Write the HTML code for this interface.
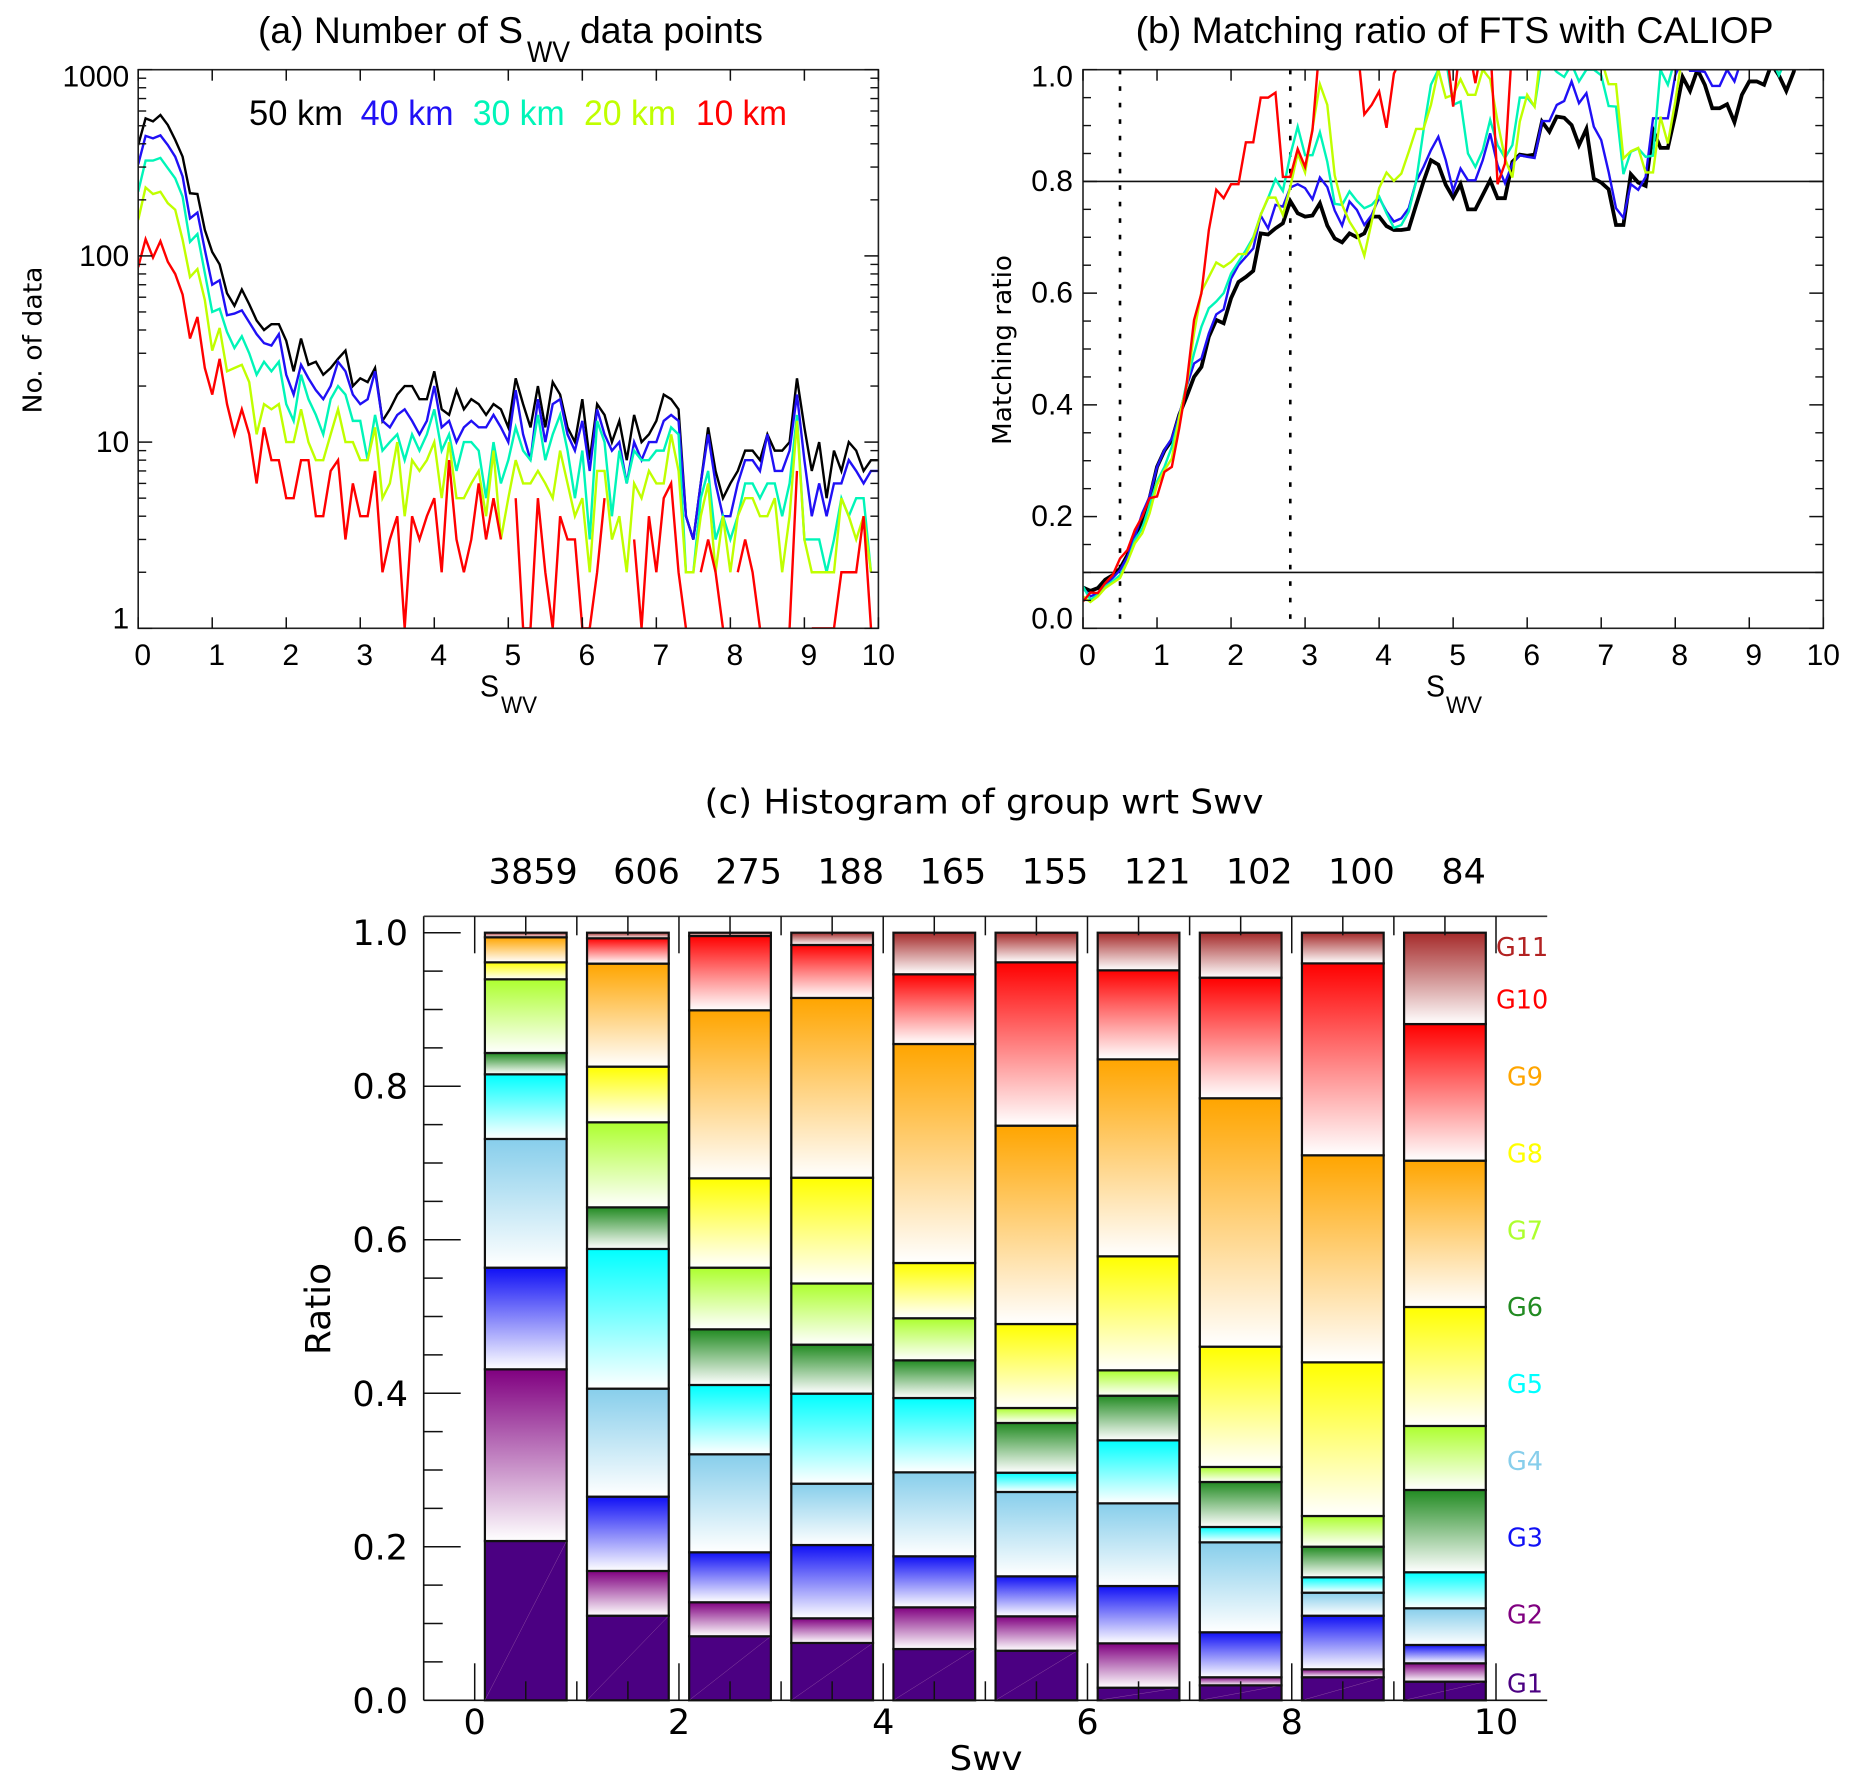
<!DOCTYPE html>
<html lang="en">
<head>
<meta charset="utf-8">
<title>Swv statistics: data points, matching ratio and group histogram</title>
<style>
html,body{margin:0;padding:0;background:#fff}
svg{display:block}
text{font-family:"Liberation Sans",sans-serif;fill:#000}
.dv{font-family:"DejaVu Sans",sans-serif}
</style>
</head>
<body>
<svg id="fig" xmlns="http://www.w3.org/2000/svg" width="1857" height="1789" viewBox="0 0 1857 1789">
<defs id="defs">
<clipPath id="clipA"><rect x="138.2" y="69.7" width="740.2" height="558.6"/></clipPath>
<clipPath id="clipB"><rect x="1083" y="69.7" width="740.3" height="558.6"/></clipPath>
</defs>
<rect x="0" y="0" width="1857" height="1789" fill="#fff"/>

<g>
<text x="258" y="43" font-size="37" textLength="265" lengthAdjust="spacingAndGlyphs">(a) Number of S</text>
<text x="527" y="62" font-size="30" textLength="43" lengthAdjust="spacingAndGlyphs">WV</text>
<text x="580" y="43" font-size="37" textLength="183" lengthAdjust="spacingAndGlyphs">data points</text>
</g>
<text x="1135.6" y="43" font-size="37" textLength="638" lengthAdjust="spacingAndGlyphs">(b) Matching ratio of FTS with CALIOP</text>
<text class="dv" x="704.5" y="813.3" font-size="34" textLength="559" lengthAdjust="spacingAndGlyphs">(c) Histogram of group wrt Swv</text>

<g>
<text x="249" y="125" font-size="35" textLength="94" lengthAdjust="spacingAndGlyphs" fill="#000" style="fill:#000">50 km</text>
<text x="360.6" y="125" font-size="35" textLength="93" lengthAdjust="spacingAndGlyphs" style="fill:#2010f5">40 km</text>
<text x="472.7" y="125" font-size="35" textLength="92" lengthAdjust="spacingAndGlyphs" style="fill:#00f5b8">30 km</text>
<text x="584" y="125" font-size="35" textLength="92" lengthAdjust="spacingAndGlyphs" style="fill:#c0ff00">20 km</text>
<text x="696" y="125" font-size="35" textLength="91" lengthAdjust="spacingAndGlyphs" style="fill:#ff0000">10 km</text>
</g>

<g>
<text x="480" y="696.7" font-size="31" textLength="19" lengthAdjust="spacingAndGlyphs">S</text>
<text x="501" y="713" font-size="24" textLength="36" lengthAdjust="spacingAndGlyphs">WV</text>
</g>
<g>
<text x="1426" y="696.7" font-size="31" textLength="19" lengthAdjust="spacingAndGlyphs">S</text>
<text x="1446" y="713" font-size="24" textLength="36" lengthAdjust="spacingAndGlyphs">WV</text>
</g>
<text class="dv" transform="translate(41.5,340) rotate(-90)" text-anchor="middle" font-size="26" textLength="147" lengthAdjust="spacingAndGlyphs">No. of data</text>
<text class="dv" transform="translate(1011,350) rotate(-90)" text-anchor="middle" font-size="26" textLength="190" lengthAdjust="spacingAndGlyphs">Matching ratio</text>
<text class="dv" transform="translate(330,1309) rotate(-90)" text-anchor="middle" font-size="35" textLength="92" lengthAdjust="spacingAndGlyphs">Ratio</text>
<text class="dv" x="949.5" y="1770" font-size="34" textLength="73" lengthAdjust="spacingAndGlyphs">Swv</text>

<g id="panelA"></g>
<g id="panelB"></g>
<g id="panelC"></g>
</svg>

<script>
// ---------- Panel (a): number of data points ----------
const a50 = [394,548,528,571,505,420,341,217,215,138,105,90,63,54,66,55,45,40,43,43,35,24,36,26,27,23,25,28,31,20,22,21,25,13,15,18,20,20,17,17,24,15,14,19,15,17,16,14,16,15,12,22,16,12,20,12,21,18,12,10,17,8,16,14,10,13,8,14,10,11,13,18,17,15,4,3,6,12,7,5,6,7,9,9,8,11,9,9,10,22,12,7,10,5,9,7,10,9,7,8,8];
const a40 = [310,441,428,444,394,341,267,159,171,108,70,74,48,49,51,44,38,34,33,38,23,18,26,22,19,17,20,27,24,18,16,17,24,13,12,14,15,13,11,13,20,12,13,10,12,13,12,12,14,12,10,19,11,8,17,10,16,17,11,9,13,7,15,11,9,10,6,10,8,10,10,13,14,13,4,3,6,11,6,4,4,6,8,8,7,11,7,7,9,18,8,4,6,4,6,6,8,7,6,7,7];
const a30 = [221,325,325,336,296,261,208,119,131,81,50,52,39,32,37,30,23,27,24,27,16,13,23,17,14,11,17,20,18,13,13,8,14,9,10,11,8,11,9,11,15,9,11,7,10,10,9,5,10,6,8,12,9,8,14,8,11,14,9,5,9,3,13,10,4,9,6,9,8,8,9,9,12,11,2,2,5,7,3,4,3,4,6,6,5,6,6,4,6,14,3,3,3,2,3,5,4,5,5,2,0];
const a20 = [156,233,215,221,192,177,122,77,85,58,31,41,24,25,26,21,11,16,15,16,10,10,15,10,8,8,11,15,10,10,8,8,12,5,6,10,4,8,7,8,10,5,10,5,5,6,7,4,9,3,5,8,6,6,7,6,5,9,6,4,5,2,7,7,3,4,2,6,5,7,6,6,11,7,2,2,4,6,2,4,2,4,5,5,4,4,5,2,4,13,3,2,2,2,2,5,4,3,4,2,0];
const a10 = [87,123,98,120,93,80,62,36,47,25,18,28,16,11,15,11,6,12,8,8,5,5,8,8,4,4,7,8,3,6,4,4,7,2,3,4,1,4,3,4,5,2,8,3,2,3,6,3,5,3,0,5,1,1,5,2,1,4,3,3,1,1,2,5,0,0,0,3,1,4,2,5,6,2,1,0,2,3,2,1,0,2,3,2,1,0,0,0,1,7,0,1,1,1,1,2,2,2,4,1,0];
const aDecadeTicks = [1000,100,10,1];
const xTickLabels = ["0","1","2","3","4","5","6","7","8","9","10"];

// ---------- Panel (b): matching ratio ----------
const b50 = [.073,.067,.072,.087,.095,.107,.131,.164,.194,.233,.289,.318,.337,.382,.415,.45,.468,.522,.552,.546,.591,.62,.629,.64,.707,.705,.716,.725,.765,.743,.737,.739,.761,.721,.698,.691,.707,.70,.707,.737,.737,.72,.713,.713,.715,.758,.80,.838,.83,.794,.771,.795,.75,.75,.776,.802,.77,.77,.835,.848,.846,.848,.907,.889,.916,.914,.901,.865,.894,.805,.798,.786,.722,.722,.813,.798,.792,.892,.86,.86,.919,.987,.962,1,.973,.931,.931,.938,.906,.955,.979,.979,.973,1.01,.99,.962,.996,1.05,1.05,1.05,1.05];
const b40 = [.072,.057,.063,.078,.09,.104,.128,.164,.206,.236,.289,.319,.34,.382,.433,.474,.483,.528,.562,.571,.626,.65,.665,.68,.739,.716,.758,.755,.789,.795,.788,.768,.807,.79,.748,.721,.764,.749,.722,.74,.771,.746,.728,.734,.752,.80,.826,.856,.88,.838,.783,.823,.802,.802,.838,.886,.829,.797,.832,.847,.844,.842,.908,.908,.937,.944,.979,.94,.958,.898,.874,.817,.752,.735,.795,.785,.808,.913,.913,.913,.99,1.02,.998,.998,.996,.971,.971,1,.979,1.02,1.05,1.05,1.05,1.05,1.05,1.05,1.05,1.05,1.05,1.05,1.05];
const b30 = [.075,.051,.06,.075,.084,.095,.119,.158,.179,.221,.263,.289,.325,.376,.44,.492,.54,.573,.585,.60,.635,.656,.677,.70,.74,.77,.804,.783,.847,.898,.847,.847,.888,.835,.76,.758,.782,.765,.752,.758,.773,.743,.717,.722,.746,.80,.892,.973,1,1.02,.937,.943,.85,.826,.856,.91,.865,.842,.865,.95,.95,.934,1.02,1.01,.996,.987,1.01,.979,1,1,.99,.935,.934,.813,.853,.859,.844,.846,1,.973,1.02,1.05,1.05,1.05,1.05,1.05,1.05,1.05,1.05,1.05,1.05,1.05,1.05,1.02,.99,1.02,1.05,1.05,1.05,1.05,1.05];
const b20 = [.057,.047,.057,.072,.081,.09,.119,.152,.17,.206,.257,.283,.304,.379,.433,.528,.603,.629,.655,.647,.656,.67,.67,.698,.74,.771,.771,.74,.79,.85,.816,.895,.974,.937,.811,.758,.728,.707,.667,.728,.788,.816,.801,.814,.853,.894,.894,.937,1,.95,.955,.983,.955,.955,1,.983,.907,.841,.807,.907,.955,.934,1.05,1.05,1.05,1.05,1.05,1.05,1.05,1.05,1.02,.974,.974,.841,.854,.86,.816,.816,.916,.868,.943,1.03,1.05,1.05,1.05,1.05,1.05,1.05,1.05,1.05,1.05,1.05,1.05,1.05,1.05,1.05,1.05,1.05,1.05,1.05,1.05];
const b10 = [.048,.064,.063,.081,.095,.125,.14,.176,.20,.233,.236,.28,.289,.358,.438,.552,.60,.713,.785,.77,.795,.795,.87,.87,.95,.95,.959,.808,.808,.858,.826,.892,1.05,1.05,1.05,1.05,1.05,1.05,.92,.937,.961,.896,.993,1.02,1.05,1.05,1.05,1.05,1.05,1.05,.934,1.05,1.05,.976,1.05,1.05,.795,.832,1.05,1.05,1.05,1.05,1.05,1.05,1.05,1.05,1.05,1.05,1.05,1.05,1.05,1.05,1.05,1.05,1.05,1.05,1.05,1.05,1.05,1.05,1.05,1.05,1.05,1.05,1.05,1.05,1.05,1.05,1.05,1.05,1.05,1.05,1.05,1.05,1.05,1.05,1.05,1.05,1.05,1.05,1.05];
const bThresholds = [0.8,0.1];
const bMarkers = [0.5,2.8];
const bYTickLabels = ["0.0","0.2","0.4","0.6","0.8","1.0"];

// ---------- Panel (c): group shares per Swv bin ----------
const binCounts = ["3859","606","275","188","165","155","121","102","100","84"];
const g1  = [.2075,.1102,.0834,.0747,.0668,.0646,.0164,.0195,.03,.0243];
const g2  = [.2237,.0583,.0443,.0321,.0543,.0448,.0578,.0105,.0104,.0239];
const g3  = [.1324,.0968,.0651,.0955,.0665,.0521,.0747,.0586,.0698,.0239];
const g4  = [.1677,.1407,.1277,.0799,.1094,.1099,.1077,.1172,.03,.0478];
const g5  = [.0842,.182,.0903,.1173,.0968,.0251,.0821,.02,.02,.0469];
const g6  = [.0278,.0542,.0725,.0638,.0491,.0648,.0581,.0586,.0399,.1072];
const g7  = [.096,.1108,.0803,.0797,.0548,.0195,.0331,.0196,.04,.0834];
const g8  = [.0221,.0725,.1164,.1378,.072,.1094,.1485,.1567,.2002,.155];
const g9  = [.0326,.1342,.2189,.2342,.2853,.2584,.2566,.3236,.2697,.1906];
const g10 = [0,.033,.0968,.069,.0908,.2128,.116,.1571,.25,.178];
const g11 = [.006,.0073,.0043,.016,.0542,.0386,.049,.0586,.04,.119];
const groupNames = ["G1","G2","G3","G4","G5","G6","G7","G8","G9","G10","G11"];
const cYTickLabels = ["0.0","0.2","0.4","0.6","0.8","1.0"];
const cXTickLabels = ["0","2","4","6","8","10"];

const NS = "http://www.w3.org/2000/svg";
const seriesNames = ["50km","40km","30km","20km","10km"];
const seriesColors = ["#000000","#2010f5","#00f5b8","#c0ff00","#ff0000"];
const groupColors = ["#4b0082","#800080","#1010f5","#87ceeb","#00ffff","#228b22","#adff2f","#ffff00","#ffa500","#ff0000","#a52a2a"];
const groupLabelColors = ["#4b0082","#800080","#1010f5","#87ceeb","#00ffff","#228b22","#adff2f","#ffff00","#ffa500","#ff0000","#b22222"];

function mk(tag, parent, attrs) {
  const el = document.createElementNS(NS, tag);
  for (const k in attrs) el.setAttribute(k, attrs[k]);
  parent.appendChild(el);
  return el;
}
function seg(parent, x1, y1, x2, y2, w, color) {
  const el = mk("line", parent, {x1: x1, y1: y1, x2: x2, y2: y2, stroke: color || "#111", "stroke-width": w});
  
  return el;
}
function label(parent, x, y, str, size, anchor, cls) {
  const el = mk("text", parent, {x: x, y: y, "font-size": size, "text-anchor": anchor});
  if (cls) el.setAttribute("class", cls);
  el.textContent = str;
  
  return el;
}

// shared geometry
const A = {l: 138.2, r: 878.4, t: 69.7, b: 628.3};
const B = {l: 1083, r: 1823.3, t: 69.7, b: 628.3};
const C = {l: 423.7, r: 1547.2, t: 916.3, b: 1700.3, x0: 474.7, dx: 102.13, y1: 932.7};

const xA = v => A.l + (A.r - A.l) * v / 10;
const yA = v => A.b - (A.b - A.t) * Math.log10(v) / 3;
const xB = v => B.l + (B.r - B.l) * v / 10;
const yB = v => B.b - (B.b - B.t) * v;
const xC = v => C.x0 + C.dx * v;
const yC = v => C.b - (C.b - C.y1) * v;

function drawSeries(parent, values, xf, yf, color, width, clip, name, breakOnZero) {
  let d = "";
  let pen = false;
  values.forEach(function (v, i) {
    if (breakOnZero && v <= 0) { pen = false; return; }
    d += (pen ? "L" : "M") + xf(i * 0.1).toFixed(2) + " " + yf(v).toFixed(2);
    pen = true;
  });
  const el = mk("path", parent, {d: d, fill: "none", stroke: color, "stroke-width": width, "stroke-linejoin": "miter", "clip-path": "url(#" + clip + ")"});
  
  
}

// ---------- draw panel A ----------
(function () {
  const p = document.getElementById("panelA");
  [a50, a40, a30, a20, a10].forEach(function (vals, s) {
    drawSeries(p, vals, xA, yA, seriesColors[s], 2.4, "clipA", "line-a-" + seriesNames[s], true);
  });
  const frame = mk("rect", p, {x: A.l, y: A.t, width: A.r - A.l, height: A.b - A.t, fill: "none", stroke: "#222", "stroke-width": 1.6});
  
  
  xTickLabels.forEach(function (t, i) {
    const x = xA(+t);
    seg(p, x, A.b, x, A.b - 11, 1.5);
    seg(p, x, A.t, x, A.t + 11, 1.5);
    const off = i === xTickLabels.length - 1 ? 0 : 4.5;
    label(p, x + off, 665, t, 30, "middle");
  });
  aDecadeTicks.forEach(function (d, i) {
    const y = yA(d);
    seg(p, A.l, y, A.l + 14, y, 1.5);
    seg(p, A.r, y, A.r - 14, y, 1.5);
    const base = i === 0 ? y + 17 : (d === 1 ? y : y + 10);
    label(p, A.l - 9, base, String(d), 30, "end");
    if (d > 1) {
      for (let m = 2; m <= 9; m++) {
        const ym = yA(d / 10 * m);
        seg(p, A.l, ym, A.l + 8, ym, 1.4);
        seg(p, A.r, ym, A.r - 8, ym, 1.4);
      }
    }
  });
})();

// ---------- draw panel B ----------
(function () {
  const p = document.getElementById("panelB");
  bMarkers.forEach(function (m) {
    const el = seg(p, xB(m), B.t, xB(m), B.b, 2.6, "#000");
    el.setAttribute("stroke-dasharray", "4.7 11.8");
    
  });
  bThresholds.forEach(function (v) {
    seg(p, B.l, yB(v), B.r, yB(v), 1.6, "#111");
  });
  [b50, b40, b30, b20, b10].forEach(function (vals, s) {
    drawSeries(p, vals, xB, yB, seriesColors[s], s === 0 ? 3.8 : 2.4, "clipB", "line-b-" + seriesNames[s], false);
  });
  const frame = mk("rect", p, {x: B.l, y: B.t, width: B.r - B.l, height: B.b - B.t, fill: "none", stroke: "#222", "stroke-width": 1.6});
  
  
  xTickLabels.forEach(function (t, i) {
    const x = xB(+t);
    seg(p, x, B.b, x, B.b - 11, 1.5);
    seg(p, x, B.t, x, B.t + 11, 1.5);
    const off = i === xTickLabels.length - 1 ? 0 : 4.5;
    label(p, x + off, 665, t, 30, "middle");
  });
  bYTickLabels.forEach(function (t) {
    const v = +t;
    const y = yB(v);
    seg(p, B.l, y, B.l + 14, y, 1.5);
    seg(p, B.r, y, B.r - 14, y, 1.5);
    const base = v === 1 ? y + 17 : (v === 0 ? y : y + 9.5);
    label(p, B.l - 10, base, t, 30, "end");
    if (v < 1) {
      [0.05, 0.1, 0.15].forEach(function (d) {
        const ym = yB(v + d);
        seg(p, B.l, ym, B.l + 8, ym, 1.4);
        seg(p, B.r, ym, B.r - 8, ym, 1.4);
      });
    }
  });
})();

// ---------- draw panel C ----------
(function () {
  const p = document.getElementById("panelC");
  const defs = document.getElementById("defs");
  groupColors.forEach(function (c, k) {
    const g = mk("linearGradient", defs, {id: "grad" + k, x1: 0, y1: 0, x2: 0, y2: 1});
    mk("stop", g, {offset: "0%", "stop-color": c});
    mk("stop", g, {offset: "100%", "stop-color": k === 0 ? c : "#ffffff"});
  });
  const groups = [g1, g2, g3, g4, g5, g6, g7, g8, g9, g10, g11];
  binCounts.forEach(function (label_, i) {
    const bar = mk("g", p, {});
    
    
    const left = xC(i + 0.1);
    const width = xC(i + 0.9) - left;
    let cum = 0;
    groups.forEach(function (g, k) {
      const top = cum + g[i];
      const yTop = yC(top);
      const yBot = yC(cum);
      const r = mk("rect", bar, {x: left, y: yTop, width: width, height: Math.max(yBot - yTop, 0), fill: "url(#grad" + k + ")", stroke: "#111", "stroke-width": 2.2});
      
      
      if (k === 0) {
        const diag = seg(bar, left, yBot, left + width, yTop, 0.5, "#8a4aa0");
        
      }
      cum = top;
    });
    const anchorOff = label_.length === 2 ? 41 : 52;
    label(p, xC(i + 0.5) + anchorOff, 883.5, label_, 35, "end", "dv");
  });

  // axes on top of the bars
  seg(p, C.l, C.t, C.l, C.b, 1.6);
  seg(p, C.l, C.t, C.r, C.t, 1.6, "#333");
  seg(p, C.l, C.b, C.r, C.b, 1.6);

  for (let t = 0; t <= 20; t++) {
    const v = t * 0.5;
    const x = xC(v);
    const long = t % 4 === 0;
    const len = long ? 37 : 19;
    seg(p, x, C.t, x, C.t + len, 1.5);
    seg(p, x, C.b, x, C.b - len, 1.5);
  }
  cXTickLabels.forEach(function (t) {
    label(p, xC(+t), 1734, t, 35, "middle", "dv");
  });
  for (let t = 0; t <= 20; t++) {
    const v = t * 0.05;
    const y = yC(v);
    const len = t % 4 === 0 ? 37 : 19;
    seg(p, C.l, y, C.l + len, y, 1.5);
  }
  cYTickLabels.forEach(function (t) {
    label(p, 408, yC(+t) + 12.5, t, 35, "end", "dv");
  });
  groupNames.forEach(function (name, k) {
    let y, x;
    if (k === 0) { y = 1692.7; x = 1507; }
    else if (k === 9) { y = 1008.7; x = 1496; }
    else if (k === 10) { y = 956; x = 1496; }
    else { y = 1623.5 - 76.85 * (k - 1); x = 1507; }
    const el = label(p, x, y, name, 25.5, "start", "dv");
    el.style.fill = groupLabelColors[k];
    
  });
})();
</script>
</body>
</html>
